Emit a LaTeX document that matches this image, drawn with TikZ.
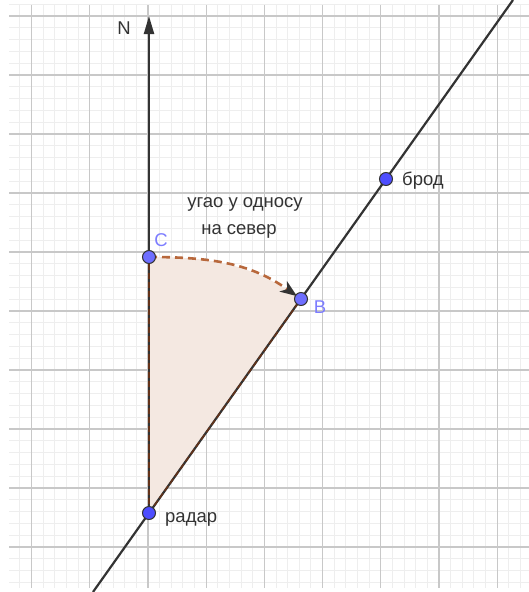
\documentclass[tikz,border=0pt]{standalone}
\usepackage{fontspec}
\setmainfont{Liberation Sans}
\usetikzlibrary{arrows.meta}
\definecolor{minorgrid}{RGB}{238,238,238}
\definecolor{majorgrid}{RGB}{200,200,200}
\definecolor{linegray}{RGB}{51,51,51}
\definecolor{sectorfill}{RGB}{244,232,225}
\definecolor{arcbrown}{RGB}{184,104,60}
\definecolor{edgebrown}{RGB}{100,50,25}
\definecolor{ptblue}{RGB}{77,77,255}
\definecolor{ptlight}{RGB}{110,110,255}
\definecolor{lblblue}{RGB}{125,125,255}
\tikzset{
  pt/.style={circle,draw=linegray,fill=ptblue,line width=1pt,inner sep=0pt,minimum size=13pt},
  ptl/.style={circle,draw=linegray,fill=ptlight,line width=1pt,inner sep=0pt,minimum size=13pt},
  lbl/.style={font=\fontsize{18.5}{22}\selectfont,text=linegray,inner sep=0pt},
  blbl/.style={font=\fontsize{18.5}{22}\selectfont,text=lblblue,inner sep=0pt},
  geoline/.style={draw=linegray,line width=2.2pt},
}
\begin{document}
\begin{tikzpicture}[x=1pt,y=-1pt]
\useasboundingbox (0,0) rectangle (529,592);
\fill[white] (0,0) rectangle (529,592);
% grid
\foreach \i in {-11,...,32} \draw[minorgrid,line width=1pt] ({148+11.64*\i},5) -- ({148+11.64*\i},588);
\foreach \j in {-21,...,28} \draw[minorgrid,line width=1pt] (9,{252+11.8*\j}) -- (529,{252+11.8*\j});
\foreach \i in {-10,-5,...,30} \draw[majorgrid,line width=1.3pt] ({148+11.64*\i},5) -- ({148+11.64*\i},588);
\foreach \j in {-20,-15,...,25} \draw[majorgrid,line width=1.3pt] (9,{252+11.8*\j}) -- (529,{252+11.8*\j});
% key coordinates
\coordinate (radarP) at (149,513);
\coordinate (CP) at (149,257);
\coordinate (BP) at (301,299);
\coordinate (brodP) at (386,179);
\coordinate (lineBot) at (93,592);
\coordinate (lineTop) at (513,0);
\coordinate (Ntip) at (149,16);
% sector
\fill[sectorfill] (radarP) -- (CP) to[out=0,in=144.6] (BP) -- cycle;
% lines
\draw[geoline] (lineBot) -- (lineTop);
\draw[geoline,-{Triangle[length=18pt,width=10pt]}] (radarP) -- (Ntip);
% sector edges
\draw[edgebrown,line width=1.5pt,dash pattern=on 6pt off 3pt] (radarP) -- (CP);
\draw[edgebrown,line width=1.5pt,dash pattern=on 6pt off 3pt] (radarP) -- (BP);
\draw[arcbrown,line width=2.6pt,dash pattern=on 8pt off 5pt,shorten >=5pt,-{Stealth[length=17pt,width=13pt,inset=5pt,color=linegray,line width=0pt]}] (CP) to[out=0,in=144.6] (BP);
% points
\node[pt] (radar) at (radarP) {};
\node[pt] (brod) at (brodP) {};
\node[ptl] (C) at (CP) {};
\node[ptl] (B) at (BP) {};
% labels
\node[lbl] (Nlbl) at (124,28) {N};
\node[lbl,anchor=west] (brodlbl) at (402,181) {брод};
\node[lbl,anchor=west] (radarlbl) at (165,519) {радар};
\node[blbl] (Clbl) at (161,240) {C};
\node[blbl] (Blbl) at (320,307) {B};
\node[lbl] (t1) at (245,204) {угао у односу};
\node[lbl] (t2) at (239,231) {на север};
\end{tikzpicture}
\end{document}
